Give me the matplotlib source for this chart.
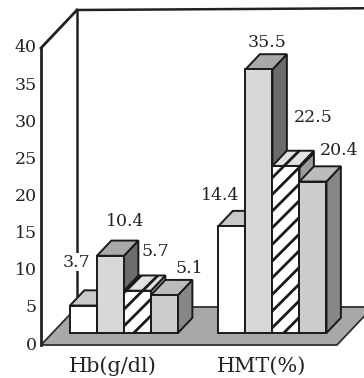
import matplotlib.pyplot as plt
from matplotlib.patches import Polygon

plt.rcParams['font.family'] = ['DejaVu Serif']
plt.rcParams['hatch.linewidth'] = 2.0

# values per bar series, one entry per category group
categories = ['Hb(g/dl)', 'HMT(%)']
values_white = [3.7, 14.4]
values_gray = [10.4, 35.5]
values_hatch = [5.7, 22.5]
values_dots = [5.1, 20.4]
y_ticks = [0, 5, 10, 15, 20, 25, 30, 35, 40]

series = [values_white, values_gray, values_hatch, values_dots]

# face colours (front, top, side) and hatch for each series
styles = [
    dict(front='white', top='#c9c9c9', side='#8a8a8a', hatch=None),
    dict(front='#d8d8d8', top='#a9a9a9', side='#6c6c6c', hatch=None),
    dict(front='white', top='#e2e2e2', side='#9c9c9c', hatch='//'),
    dict(front='#cdcdcd', top='#bcbcbc', side='#878787', hatch=None),
]
# label offsets from the top centre of each front face, in pixels
label_offsets = [
    [(-6.5, 43.5), (-11.5, 31)],
    [(14.5, 33.8), (8.5, 27.4)],
    [(17.5, 38.7), (27.5, 48)],
    [(24.5, 27), (26.5, 31.5)],
]

W, H = 364, 378
PX_X = 27.0      # pixels per bar width
PX_Y = 7.425     # pixels per value unit
X0_PX = 58.6
Y0_PX = 345

fig = plt.figure(figsize=(W / 100, H / 100), dpi=100)
ax = fig.add_axes([0, 0, 1, 1])
ax.set_xlim(-X0_PX / PX_X, (W - X0_PX) / PX_X)
ax.set_ylim(-(H - Y0_PX) / PX_Y, Y0_PX / PX_Y)
ax.axis('off')

# oblique depth vector of the box
DX, DY = 36 / PX_X, 38 / PX_Y
F0, F1 = 0.316, 0.716   # front and back depth of the bars


def proj(x, v, f):
    return (x + f * DX, v + f * DY)


x_axis = -0.652
x_floor = 10.31
y_top = y_ticks[-1]
group_starts = [0, 5.5]

# floor
floor = Polygon([proj(x_axis, 0, 0), proj(x_floor, 0, 0),
                 proj(x_floor, 0, 1), proj(x_axis, 0, 1)],
                closed=True, facecolor='#a8a8a8', edgecolor='#303030',
                lw=1.3, zorder=1)
ax.add_patch(floor)

# back wall edges
bx0, by0 = proj(x_axis, 0, 1)
bx1, by1 = proj(x_axis, y_top, 1)
ax.plot([bx0, bx1], [by0, by1], color='#222222', lw=1.8, zorder=1.5)
ax.plot([bx1, 12], [by1, by1 + 0.25], color='#222222', lw=1.8, zorder=1.5)

# front axis and its link to the back wall
ax.plot([x_axis, x_axis], [0, y_top], color='#222222', lw=2, zorder=6)
ax.plot([x_axis, bx1], [y_top, by1], color='#222222', lw=2, zorder=6)

for v in y_ticks:
    ax.text(x_axis - 4 / PX_X, v, str(v), ha='right', va='center',
            fontsize=12.5, color='#222222')

# 3-D bars, drawn left to right so each covers the side of the previous one
for g, gx in enumerate(group_starts):
    for i, (vals, st) in enumerate(zip(series, styles)):
        h = vals[g]
        x0 = gx + i
        z = 3 + i * 0.1
        side = Polygon([proj(x0 + 1, 0, F0), proj(x0 + 1, h, F0),
                        proj(x0 + 1, h, F1), proj(x0 + 1, 0, F1)],
                       closed=True, facecolor=st['side'], edgecolor='#1a1a1a',
                       lw=1.4, hatch=st['hatch'], zorder=z)
        top = Polygon([proj(x0, h, F0), proj(x0 + 1, h, F0),
                       proj(x0 + 1, h, F1), proj(x0, h, F1)],
                      closed=True, facecolor=st['top'], edgecolor='#1a1a1a',
                      lw=1.4, hatch=st['hatch'], zorder=z + 0.01)
        ax.add_patch(side)
        ax.add_patch(top)
        ax.bar(x0 + F0 * DX, h, width=1, bottom=F0 * DY, align='edge',
               color=st['front'], edgecolor='#1a1a1a', lw=1.4,
               hatch=st['hatch'], zorder=z + 0.02)
        dx, dy = label_offsets[i][g]
        ax.text(x0 + F0 * DX + 0.5 + dx / PX_X, h + F0 * DY + dy / PX_Y,
                f'{h:.1f}', ha='center', va='center', fontsize=12.5,
                color='#222222', zorder=8,
                bbox=dict(facecolor='white', edgecolor='none', pad=0.5))

for gx, name in zip(group_starts, categories):
    ax.text(gx + 2, -2.83, name, ha='center', va='center', fontsize=15,
            color='#222222')

fig.savefig('out.png', dpi=100)
